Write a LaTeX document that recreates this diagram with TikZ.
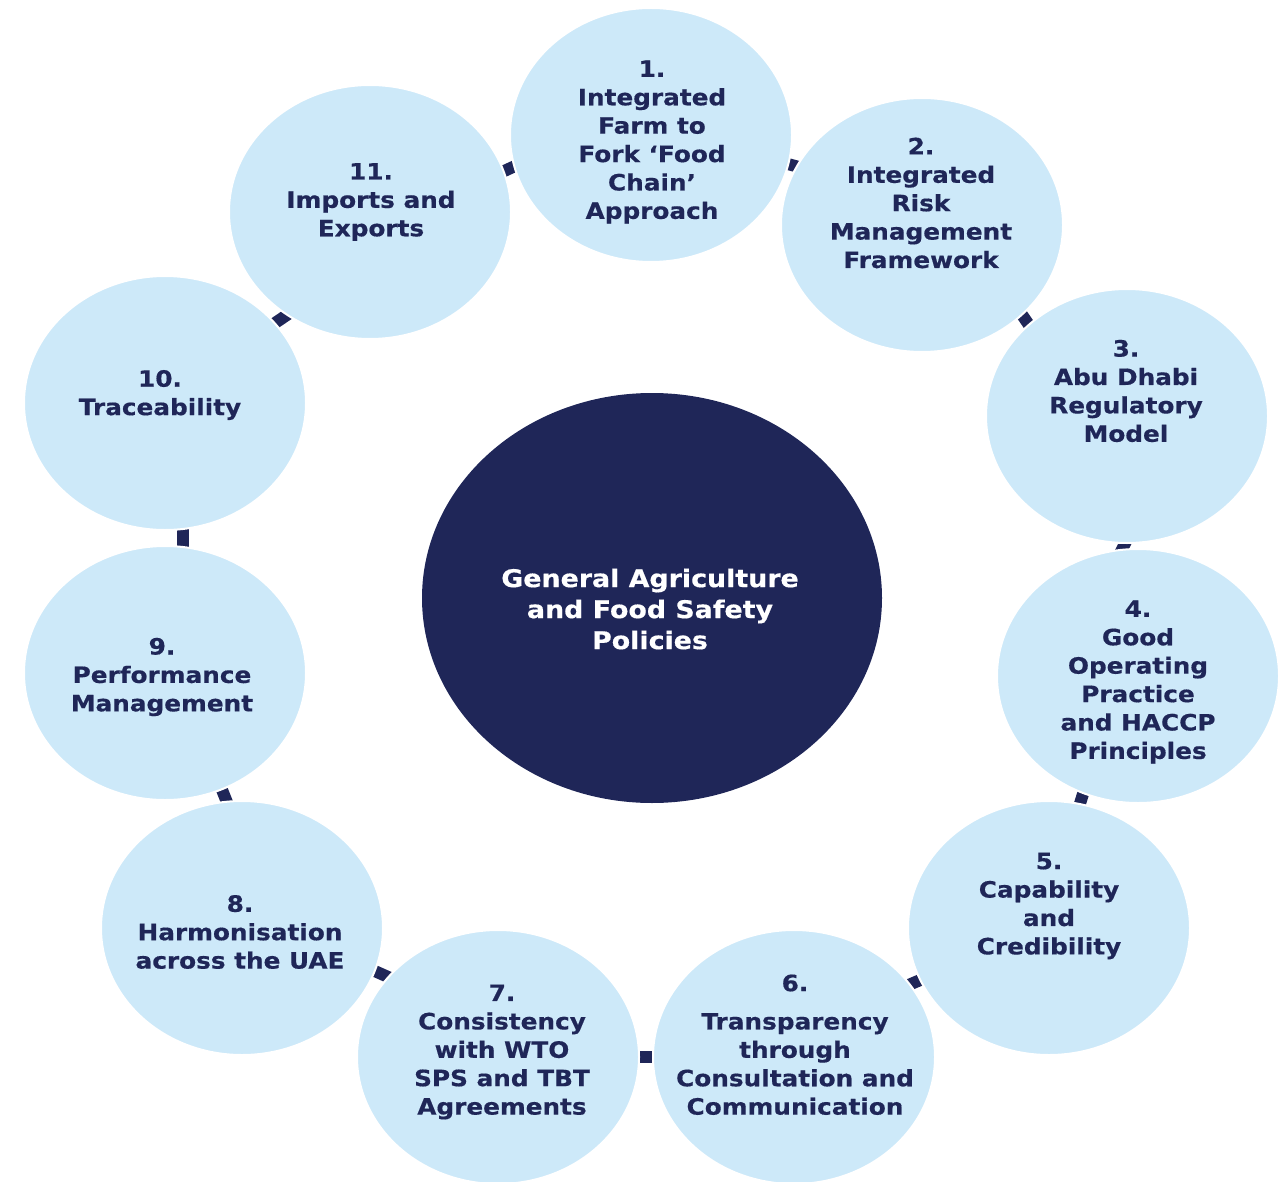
\documentclass[tikz,border=0pt]{standalone}
\usepackage{fontspec}
\setmainfont{DejaVu Sans}[FakeStretch=1.1, BoldFeatures={FakeBold=0.5}]
\usetikzlibrary{shapes.geometric,backgrounds}
\definecolor{navy}{RGB}{31,38,88}
\definecolor{lblue}{RGB}{205,233,249}
\tikzset{
 bub/.style={ellipse, fill=lblue, draw=white, line width=2pt, minimum width=282pt, minimum height=254pt, inner sep=0pt},
 hub/.style={ellipse, fill=navy, minimum width=460pt, minimum height=410pt, inner sep=0pt},
 lab/.style={align=center, text=navy, font=\fontsize{22.5}{28.4}\selectfont\bfseries, inner sep=0pt},
 hublab/.style={align=center, text=white, font=\fontsize{24.4}{31}\selectfont\bfseries, inner sep=0pt},
 link/.style={draw=navy, line width=12pt, shorten <=-6pt, shorten >=-6pt},
}
\begin{document}
\begin{tikzpicture}[x=1pt,y=-1pt]
\useasboundingbox (0,0) rectangle (1287,1182);
\node[hub] (hub) at (652,598) {};
\node[bub] (e1) at (651,135) {};
\node[bub] (e2) at (922,225) {};
\node[bub] (e3) at (1127,416) {};
\node[bub] (e4) at (1138,676) {};
\node[bub] (e5) at (1049,928) {};
\node[bub] (e6) at (794,1057) {};
\node[bub] (e7) at (498,1057) {};
\node[bub] (e8) at (242,928) {};
\node[bub] (e9) at (165,673) {};
\node[bub] (e10) at (165,403) {};
\node[bub] (e11) at (370,212) {};
\begin{scope}[on background layer]
\draw[link] (e11.17.6) -- (e1.-167.1);
\draw[link] (e1.-12.5) -- (e2.155.4);
\draw[link] (e2.-42.9) -- (e3.137.2);
\draw[link] (e3.-91.8) -- (e4.97);
\draw[link] (e4.-115.5) -- (e5.76.7);
\draw[link] (e5.-158.8) -- (e6.32.6);
\draw[link] (e6.180) -- (e7.0);
\draw[link] (e7.144.8) -- (e8.-18.6);
\draw[link] (e8.97.6) -- (e9.-64.1);
\draw[link] (e9.82.3) -- (e10.-82.3);
\draw[link] (e10.36) -- (e11.-129.8);
\end{scope}
\node[hublab] (thub) at (650,609) {General Agriculture\\and Food Safety\\Policies};
\node[lab] (t1) at (652,142) {1.\\Integrated\\Farm to\\Fork ‘Food\\Chain’\\Approach};
\node[lab] (t2) at (921,203) {2.\\Integrated\\Risk\\Management\\Framework};
\node[lab] (t3) at (1126,391) {3.\\Abu Dhabi\\Regulatory\\Model};
\node[lab] (t4) at (1138,682) {4.\\Good\\Operating\\Practice\\and HACCP\\Principles};
\node[lab] (t5) at (1049,906) {5.\\Capability\\and\\Credibility};
\node[lab] (t6a) at (795,983) {6.};
\node[lab] (t6) at (795,1064) {Transparency\\through\\Consultation and\\Communication};
\node[lab] (t7) at (502,1052) {7.\\Consistency\\with WTO\\SPS and TBT\\Agreements};
\node[lab] (t8) at (240,932) {8.\\Harmonisation\\across the UAE};
\node[lab] (t9) at (162,677) {9.\\Performance\\Management};
\node[lab] (t10) at (160,395) {10.\\Traceability};
\node[lab] (t11) at (371,202) {11.\\Imports and\\Exports};
\end{tikzpicture}
\end{document}
